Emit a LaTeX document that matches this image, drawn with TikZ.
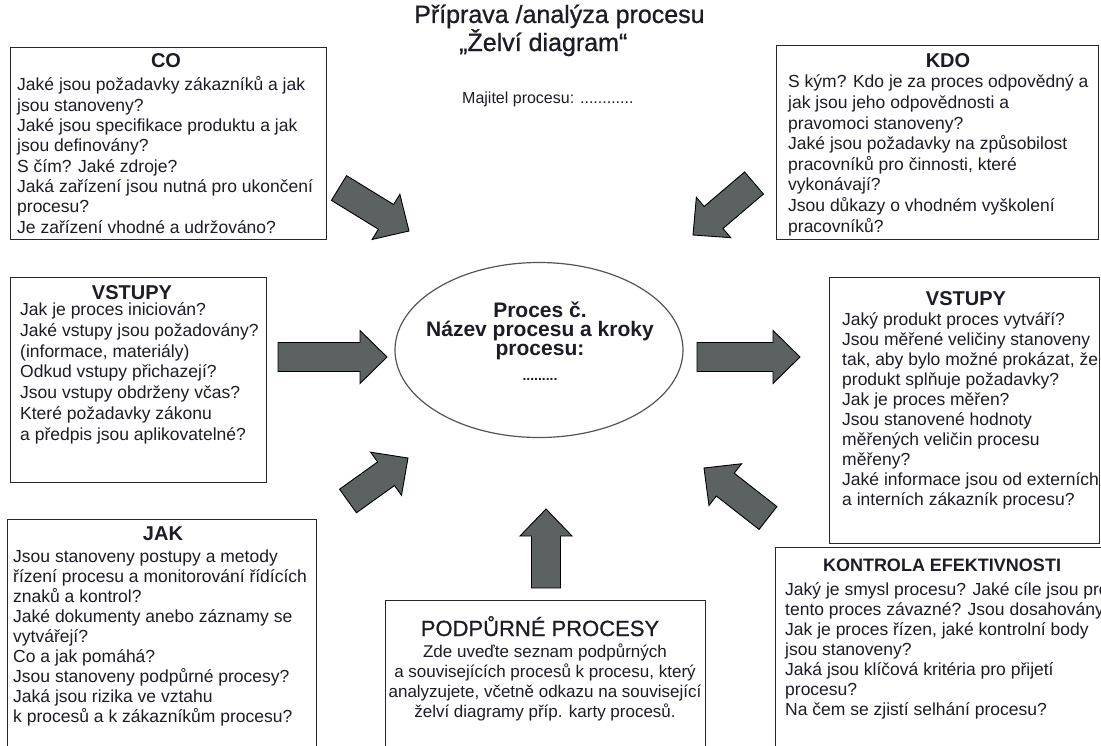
\documentclass[tikz,border=0pt]{standalone}
\usepackage{fontspec}
\setmainfont{Liberation Sans}
\newfontfamily\heavyfont[FakeBold=0.8]{Liberation Sans}
\usetikzlibrary{calc,shapes.geometric}

\definecolor{txt}{RGB}{28,28,38}
\definecolor{boxc}{RGB}{40,40,40}
\definecolor{arrowc}{RGB}{92,98,98}
\definecolor{ellc}{RGB}{85,85,85}

% block arrow from tail centre #2 to tip #3, half head width #1
\newcommand\blockarr[3][26.5pt]{%
  \coordinate (hb) at ($(#3)!27pt!(#2)$);
  \draw[blockarrow]
    ($(#2)!14.5pt!90:(#3)$) -- ($(hb)!14.5pt!90:(#3)$) -- ($(hb)!#1!90:(#3)$)
    -- (#3)
    -- ($(hb)!#1!-90:(#3)$) -- ($(hb)!14.5pt!-90:(#3)$) -- ($(#2)!14.5pt!-90:(#3)$)
    -- cycle;}

% multi-line text nodes are placed by the baseline of their last line
\tikzset{
  box/.style={draw=boxc, line width=1.4pt, fill=white, anchor=north west, inner sep=0pt},
  head/.style={font=\bfseries\fontsize{20}{22}\selectfont, text=txt, anchor=base, inner sep=0pt},
  body/.style={font=\fontsize{17.5}{20}\selectfont, text=txt, align=left, anchor=base west, inner sep=0pt},
  blockarrow/.style={fill=arrowc, draw=black, line width=0.9pt, line join=miter},
}

\begin{document}
\begin{tikzpicture}[x=1pt,y=-1pt]
\useasboundingbox (0,0) rectangle (1101,745);
\clip (0,0) rectangle (1101,745);
\fill[white] (0,0) rectangle (1101,745);

% heading
\node[font=\heavyfont\fontsize{25}{20}\selectfont, text=txt, align=left, anchor=base west, inner sep=0pt]
  (title) at (414,51) {Příprava /analýza procesu\\\hspace*{45pt}„Želví diagram“};
\node[body, font=\fontsize{16}{20}\selectfont] (owner) at (462,103) {Majitel procesu: ............};

% CO
\node[box, minimum width=316pt, minimum height=192pt] (co) at (10,47) {};
\node[head] (cohead) at (166,67) {CO};
\node[body, font=\fontsize{17.5}{20.3}\selectfont] (cotext) at (17,233) {Jaké jsou požadavky zákazníků a jak\\
jsou stanoveny?\\
Jaké jsou specifikace produktu a jak\\
jsou definovány?\\
S čím? Jaké zdroje?\\
Jaká zařízení jsou nutná pro ukončení\\
procesu?\\
Je zařízení vhodné a udržováno?};

% KDO
\node[box, minimum width=322pt, minimum height=194pt] (kdo) at (776,45) {};
\node[head] (kdohead) at (948,67) {KDO};
\node[body, font=\fontsize{17.5}{20.6}\selectfont] (kdotext) at (788,232) {S kým? Kdo je za proces odpovědný a\\
jak jsou jeho odpovědnosti a\\
pravomoci stanoveny?\\
Jaké jsou požadavky na způsobilost\\
pracovníků pro činnosti, které\\
vykonávají?\\
Jsou důkazy o vhodném vyškolení\\
pracovníků?};

% VSTUPY (inputs)
\node[box, minimum width=256pt, minimum height=205pt] (vin) at (10,277) {};
\node[head] (vinhead) at (132,299) {VSTUPY};
\node[body, font=\fontsize{17.5}{20.7}\selectfont] (vintext) at (20,440) {Jak je proces iniciován?\\
Jaké vstupy jsou požadovány?\\
(informace, materiály)\\
Odkud vstupy přichazejí?\\
Jsou vstupy obdrženy včas?\\
Které požadavky zákonu\\
a předpis jsou aplikovatelné?};

% VSTUPY (outputs)
\node[box, minimum width=270pt, minimum height=266pt] (vout) at (829,277) {};
\node[head] (vouthead) at (966,305) {VSTUPY};
\node[body] (vouttext) at (842,505) {Jaký produkt proces vytváří?\\
Jsou měřené veličiny stanoveny\\
tak, aby bylo možné prokázat, že\\
produkt splňuje požadavky?\\
Jak je proces měřen?\\
Jsou stanovené hodnoty\\
měřených veličin procesu\\
měřeny?\\
Jaké informace jsou od externích\\
a interních zákazník procesu?};

% JAK
\node[box, minimum width=309pt, minimum height=300pt] (jak) at (7,519) {};
\node[head] (jakhead) at (163,540) {JAK};
\node[body] (jaktext) at (13,722) {Jsou stanoveny postupy a metody\\
řízení procesu a monitorování řídících\\
znaků a kontrol?\\
Jaké dokumenty anebo záznamy se\\
vytvářejí?\\
Co a jak pomáhá?\\
Jsou stanoveny podpůrné procesy?\\
Jaká jsou rizika ve vztahu\\
k procesů a k zákazníkům procesu?};

% PODPŮRNÉ PROCESY
\node[box, minimum width=320pt, minimum height=200pt] (sup) at (385,600) {};
\node[head, font=\heavyfont\fontsize{22}{24}\selectfont] (suphead) at (540,636) {PODPŮRNÉ PROCESY};
\node[body, font=\fontsize{17}{20}\selectfont, align=center, anchor=base] (suptext) at (545,717) {Zde uveďte seznam podpůrných\\
a souvisejících procesů k procesu, který\\
analyzujete, včetně odkazu na související\\
želví diagramy příp. karty procesů.};

% KONTROLA EFEKTIVNOSTI
\node[box, minimum width=400pt, minimum height=250pt] (kon) at (775,547) {};
\node[head, font=\bfseries\fontsize{18}{20}\selectfont] (konhead) at (942,571) {KONTROLA EFEKTIVNOSTI};
\node[body] (kontext) at (785,715) {Jaký je smysl procesu? Jaké cíle jsou pro\\
tento proces závazné? Jsou dosahovány?\\
Jak je proces řízen, jaké kontrolní body\\
jsou stanoveny?\\
Jaká jsou klíčová kritéria pro přijetí\\
procesu?\\
Na čem se zjistí selhání procesu?};

% the process
\node[ellipse, draw=ellc, line width=1.2pt, minimum width=288pt, minimum height=175pt] (proc) at (539,350) {};
\node[font=\bfseries\fontsize{21}{19}\selectfont, text=txt, align=center, anchor=base, inner sep=0pt]
  (proctext) at (540,380) {Proces č.\\Název procesu a kroky\\procesu:\\[6pt]{\fontsize{14}{14}\selectfont .........}};

% arrows
\coordinate (a1t) at (339,188); \coordinate (a1h) at (409,231);
\coordinate (a2t) at (754,183); \coordinate (a2h) at (693,235);
\coordinate (a3t) at (278,357); \coordinate (a3h) at (387,357);
\coordinate (a4t) at (697,357); \coordinate (a4h) at (800,357);
\coordinate (a5t) at (348,501); \coordinate (a5h) at (408,458);
\coordinate (a6t) at (768,518); \coordinate (a6h) at (704,468);
\coordinate (a7t) at (546,588); \coordinate (a7h) at (546,509);
\blockarr{a1t}{a1h}
\blockarr{a2t}{a2h}
\blockarr{a3t}{a3h}
\blockarr{a4t}{a4h}
\blockarr{a5t}{a5h}
\blockarr{a6t}{a6h}
\blockarr[26pt]{a7t}{a7h}
\end{tikzpicture}
\end{document}
